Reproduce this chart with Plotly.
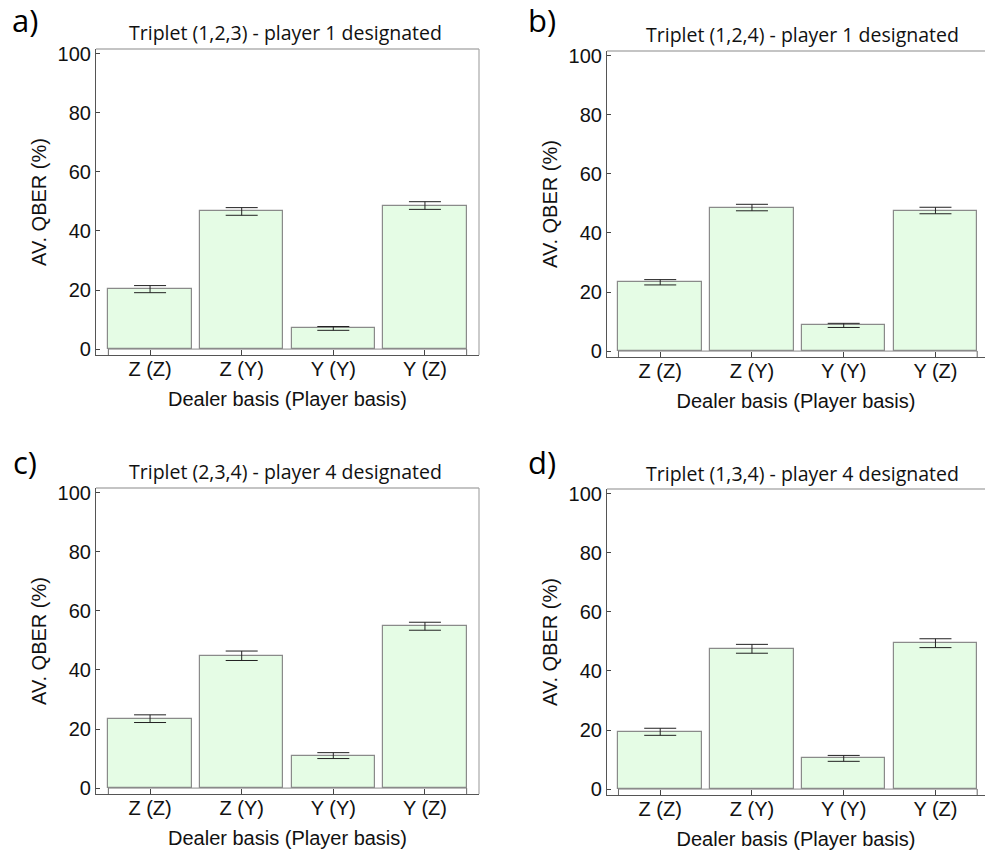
import plotly.graph_objects as go
from plotly.subplots import make_subplots

categories = ["Z (Z)", "Z (Y)", "Y (Y)", "Y (Z)"]
panel_labels = ["a)", "b)", "c)", "d)"]
titles = [
    "Triplet (1,2,3) - player 1 designated",
    "Triplet (1,2,4) - player 1 designated",
    "Triplet (2,3,4) - player 4 designated",
    "Triplet (1,3,4) - player 4 designated",
]
qber_a = [20.3, 46.6, 7.0, 48.6]
err_a = [1.2, 1.3, 0.65, 1.3]
qber_b = [23.3, 48.6, 8.7, 47.6]
err_b = [0.9, 1.1, 0.7, 1.1]
qber_c = [23.5, 44.8, 11.0, 54.8]
err_c = [1.3, 1.6, 1.0, 1.35]
qber_d = [19.4, 47.5, 10.4, 49.4]
err_d = [1.2, 1.5, 1.0, 1.5]
y_ticks = [0, 20, 40, 60, 80, 100]

values = [qber_a, qber_b, qber_c, qber_d]
errors = [err_a, err_b, err_c, err_d]

W, H = 985, 856
# frame pixel boxes: (left, top, right, bottom)
boxes = [(96, 49, 479, 355), (607, 51, 985, 357), (96, 488, 479, 794), (607, 489, 985, 795)]
xranges = [[-0.59, 3.59], [-0.58, 3.54], [-0.59, 3.59], [-0.58, 3.54]]
yrange = [-2.0, 101.6]
bar_w = 0.91

fig = make_subplots(rows=2, cols=2)
font_num = "Liberation Sans, Arial, sans-serif"
font_title = "Open Sans, Noto Sans, sans-serif"

annotations = []
shapes = []
for i in range(4):
    r, c = i // 2 + 1, i % 2 + 1
    xs = list(range(len(categories)))
    fig.add_trace(go.Bar(
        x=xs, y=values[i], width=bar_w,
        marker=dict(color="#e5fce5", line=dict(color="#8a8a8a", width=1.2)),
        error_y=dict(type="data", array=errors[i], color="#222222", thickness=1, width=16),
        showlegend=False,
    ), row=r, col=c)
    L, T, R, B = boxes[i]
    xn = "" if i == 0 else str(i + 1)
    fig.layout["xaxis" + xn].update(
        domain=[L / W, R / W], range=xranges[i], automargin=False,
        tickvals=xs, ticktext=categories,
        ticks="inside", ticklen=5, tickcolor="#444", tickwidth=1,
        showline=True, linecolor="#555", linewidth=1.2, mirror=False,
        showgrid=False, zeroline=False, ticklabelstandoff=-4,
        tickfont=dict(family=font_num, size=20, color="#111"),
        title=dict(text="Dealer basis (Player basis)", standoff=12,
                   font=dict(family=font_num, size=20, color="#111")),
    )
    fig.layout["yaxis" + xn].update(
        domain=[1 - B / H, 1 - T / H], range=yrange, automargin=False,
        tickvals=y_ticks,
        ticks="inside", ticklen=4, tickcolor="#444", tickwidth=1,
        showline=True, linecolor="#555", linewidth=1.2, mirror=False,
        showgrid=False, zeroline=False, ticklabelstandoff=0,
        tickfont=dict(family=font_num, size=20, color="#111"),
        title=dict(text="AV. QBER (%)", standoff=5,
                   font=dict(family=font_num, size=20, color="#111")),
    )
    xref = "x" + xn + " domain"
    yref = "y" + xn + " domain"
    # top frame line
    shapes.append(dict(type="line", xref=xref, yref=yref, x0=0, x1=1, y0=1, y1=1,
                       line=dict(color="#8a8a8a", width=1.2)))
    if c == 1:
        shapes.append(dict(type="line", xref=xref, yref=yref, x0=1, x1=1, y0=0, y1=1,
                           line=dict(color="#a8a8a8", width=1.2)))
    # baseline at zero spanning bars
    x_lo = -bar_w / 2
    x_hi = len(categories) - 1 + bar_w / 2
    shapes.append(dict(type="line", xref="x" + xn, yref="y" + xn, x0=x_lo, x1=x_hi, y0=0, y1=0,
                       line=dict(color="#8a8a8a", width=1)))
    for xe in (x_lo, x_hi):
        shapes.append(dict(type="line", xref="x" + xn, yref="y" + xn, x0=xe, x1=xe,
                           y0=yrange[0], y1=0, line=dict(color="#666", width=1)))
    # title
    tx = 285 if c == 1 else 802
    annotations.append(dict(text=titles[i], xref="paper", yref="paper",
                            x=tx / W, y=1 - (T - 16) / H, xanchor="center", yanchor="middle",
                            showarrow=False,
                            font=dict(family=font_title, size=19.5, color="#111")))
    # panel letter
    lx = 25 if c == 1 else 542
    ly = 20 if r == 1 else 462
    annotations.append(dict(text=panel_labels[i], xref="paper", yref="paper",
                            x=lx / W, y=1 - ly / H, xanchor="center", yanchor="middle",
                            showarrow=False,
                            font=dict(family=font_title, size=31, color="#000")))

fig.update_layout(
    width=W, height=H, margin=dict(l=0, r=0, t=0, b=0),
    paper_bgcolor="white", plot_bgcolor="white",
    annotations=annotations, shapes=shapes, bargap=0,
)
fig.write_html("out.html")
